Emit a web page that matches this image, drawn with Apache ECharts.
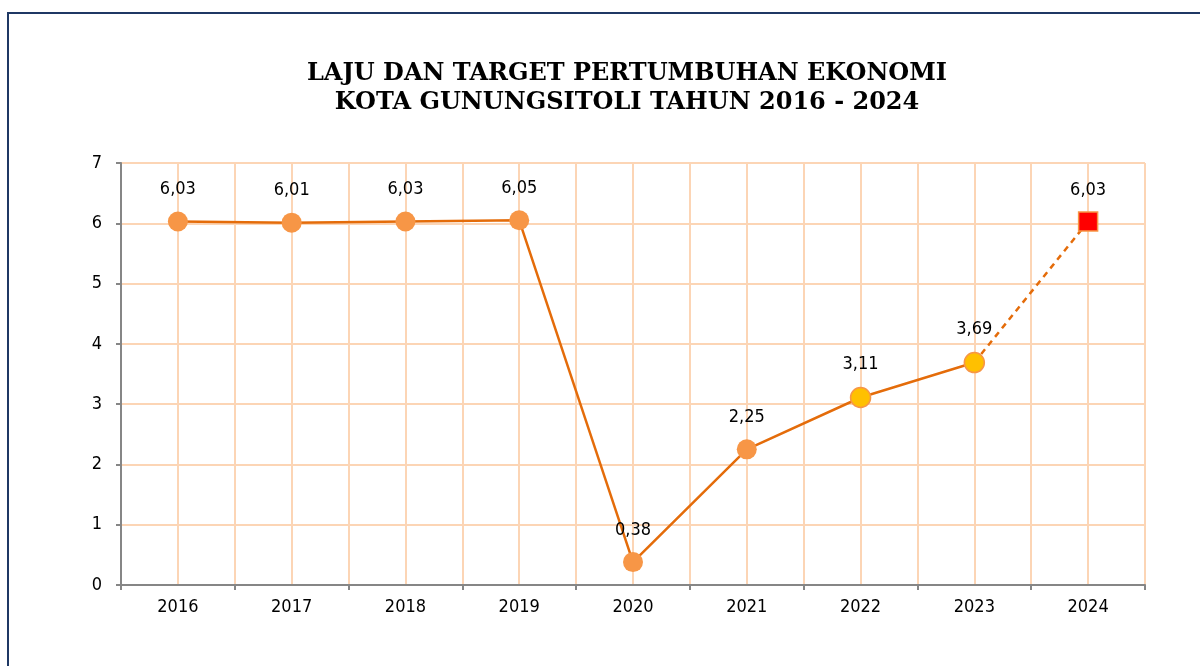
<!DOCTYPE html>
<html><head><meta charset="utf-8">
<script src="https://cdn.jsdelivr.net/npm/echarts@6/dist/echarts.min.js"></script>
<style>html,body{margin:0;padding:0;background:#fff}#c{width:1200px;height:666px}</style>
</head><body><div id="c"></div>
<script>
const years = ['2016','2017','2018','2019','2020','2021','2022','2023','2024'];
const growth = [6.03, 6.01, 6.03, 6.05, 0.38, 2.25, 3.11, 3.69, 6.03];
const yTicks = [0, 1, 2, 3, 4, 5, 6, 7];
const titleLines = ['LAJU DAN TARGET PERTUMBUHAN EKONOMI', 'KOTA GUNUNGSITOLI TAHUN 2016 - 2024'];

const orange = '#F79646', lineCol = '#E46C0A', yellow = '#FFC000', red = '#FF0000';
const gridCol = '#FCD5B5';
const txtFont = "'DejaVu Sans Condensed', sans-serif";
const fmt = v => v.toFixed(2).replace('.', ',');
const last = growth.length - 1;

const solid = growth.map((v, i) => {
  if (i === last) return null;
  const isYellow = i >= 6;
  return { value: v, itemStyle: { color: isYellow ? yellow : orange, borderColor: orange, borderWidth: isYellow ? 1.5 : 0 } };
});
const dashed = growth.map((v, i) => {
  if (i === last) return { value: v };
  if (i === last - 1) return { value: v, symbol: 'none', label: { show: false } };
  return null;
});

const chart = echarts.init(document.getElementById('c'));
chart.setOption({
  animation: false,
  backgroundColor: '#fff',
  graphic: [{ type: 'rect', shape: { x: 8, y: 13, width: 1200, height: 700 }, style: { fill: 'none', stroke: '#1F3864', lineWidth: 2 }, silent: true, z: -10 }],
  title: {
    text: titleLines.join('\n'), left: 627, textAlign: 'center', top: 59, padding: 0,
    textStyle: { fontFamily: 'DejaVu Serif', fontWeight: 'bold', fontSize: 24, color: '#000', lineHeight: 29 }
  },
  grid: { left: 121, right: 55, top: 163, bottom: 81 },
  xAxis: [{
    type: 'category', data: years, boundaryGap: true,
    axisLine: { lineStyle: { color: '#868686', width: 2 } },
    axisTick: { show: true, length: 5, lineStyle: { color: '#868686', width: 2 } },
    axisLabel: { color: '#000', fontFamily: txtFont, fontSize: 18, margin: 13 },
    splitLine: { show: false }
  }, {
    type: 'value', min: 0, max: 18, interval: 1, show: true, position: 'top',
    axisLine: { show: false }, axisTick: { show: false }, axisLabel: { show: false },
    splitLine: { show: true, lineStyle: { color: gridCol, width: 2 } }
  }],
  yAxis: {
    type: 'value', min: yTicks[0], max: yTicks[yTicks.length - 1], interval: 1,
    axisLine: { show: true, lineStyle: { color: '#868686', width: 2 } },
    axisTick: { show: true, length: 5, lineStyle: { color: '#868686', width: 2 } },
    axisLabel: { color: '#000', fontFamily: txtFont, fontSize: 18, margin: 19 },
    splitLine: { show: true, lineStyle: { color: gridCol, width: 2 } }
  },
  series: [{
    type: 'line', xAxisIndex: 0, data: dashed, symbol: 'rect', symbolSize: 19,
    lineStyle: { color: lineCol, width: 2.5, type: [6, 5] },
    itemStyle: { color: red, borderColor: orange, borderWidth: 1.5 },
    label: { show: true, position: 'top', distance: 12, color: '#000', fontFamily: txtFont, fontSize: 18,
      formatter: p => fmt(p.value) },
    z: 3
  }, {
    type: 'line', xAxisIndex: 0, data: solid, symbol: 'circle', symbolSize: 20,
    lineStyle: { color: lineCol, width: 2.5 },
    label: { show: true, position: 'top', distance: 13, color: '#000', fontFamily: txtFont, fontSize: 18,
      formatter: p => fmt(p.value) },
    z: 4
  }]
});
</script></body></html>
